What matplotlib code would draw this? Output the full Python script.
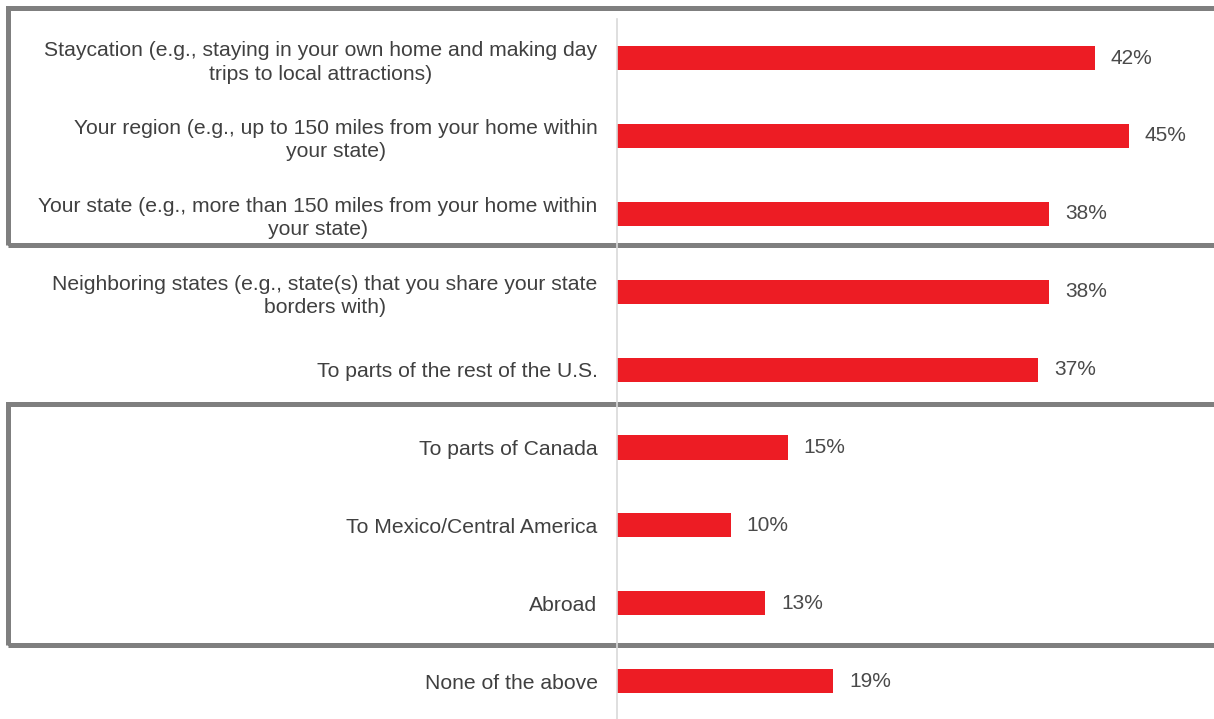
import matplotlib.pyplot as plt
from matplotlib.patches import Rectangle

categories = [
    "Staycation (e.g., staying in your own home and making day\ntrips to local attractions)",
    "Your region (e.g., up to 150 miles from your home within\nyour state)",
    "Your state (e.g., more than 150 miles from your home within\nyour state)",
    "Neighboring states (e.g., state(s) that you share your state\nborders with)",
    "To parts of the rest of the U.S.",
    "To parts of Canada",
    "To Mexico/Central America",
    "Abroad",
    "None of the above",
]
values = [42, 45, 38, 38, 37, 15, 10, 13, 19]

W, H = 1214, 719
fig = plt.figure(figsize=(W / 100, H / 100), dpi=100)
plt.rcParams['font.family'] = ['Liberation Sans', 'DejaVu Sans']

# axes spans from the zero line to the right edge
ax = fig.add_axes([617 / W, 0, 1 - 617 / W, 1])
step = 77.9
ypos = list(range(len(values)))
ax.barh(ypos, values, height=0.31, color="#ED1C24")
ax.set_xlim(0, 45 * (W - 617) / 512)
ax.set_ylim((H - 58) / step, -58 / step)

text_color = "#404040"
for y, v in zip(ypos, values):
    ax.annotate(f"{v}%", (v, y), xytext=(11.5, 0), textcoords="offset points",
                ha="left", va="center", fontsize=15, color="#4a4a4a")

ax.set_yticks(ypos)
ax.set_yticklabels(categories, fontsize=15.2, color=text_color, ha="right",
                   multialignment="center", linespacing=1.3)
ax.tick_params(axis="y", length=0, pad=14)
ax.set_xticks([])
for s in ["top", "right", "bottom", "left"]:
    ax.spines[s].set_visible(False)

# light vertical zero line
fig.add_artist(plt.Line2D([617 / W, 617 / W], [0, 1 - 19 / H],
                          transform=fig.transFigure, color="#d9d9d9", lw=1.2))

# grouping boxes
for top, bottom in [(8, 245), (404, 645)]:
    fig.add_artist(Rectangle((8 / W, 1 - bottom / H), (W + 20) / W, (bottom - top) / H,
                             transform=fig.transFigure, fill=False,
                             edgecolor="#7f7f7f", lw=3.6))

fig.savefig("out.png", dpi=100)
